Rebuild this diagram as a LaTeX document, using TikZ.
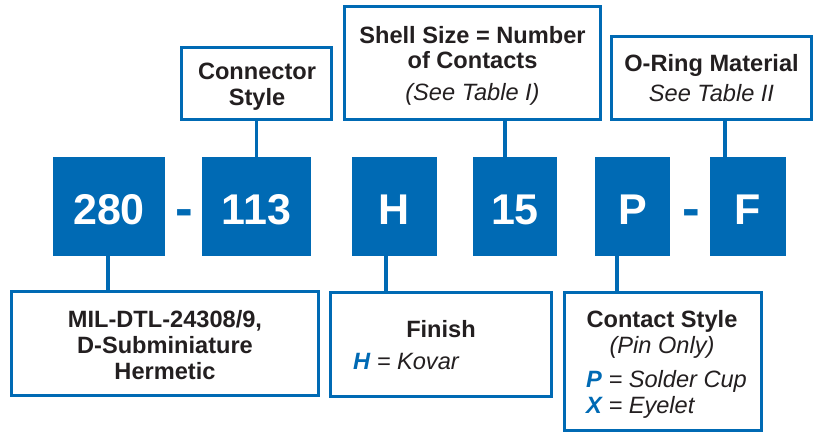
\documentclass[tikz,border=0pt]{standalone}
\usepackage{fontspec}
\setmainfont{Liberation Sans}
\usepackage{xcolor}
\definecolor{pnblue}{HTML}{006AB4}
\definecolor{pntext}{HTML}{231F20}

\begin{document}
\begin{tikzpicture}[x=1pt,y=-1pt]
	\tikzstyle{code-box}=[fill=pnblue,text=white,inner sep=0pt,minimum height=99pt,text height=35pt,text depth=0pt,font=\fontsize{43}{43}\selectfont\bfseries]
	\tikzstyle{info-box}=[draw=pnblue,line width=3.5pt,inner sep=0pt]
	\tikzstyle{head}=[color=pntext,font=\fontsize{23.6}{26}\selectfont\bfseries,anchor=base,inner sep=0pt]
	\tikzstyle{note}=[color=pntext,font=\fontsize{23.6}{26}\selectfont\itshape,anchor=base,inner sep=0pt]
	\tikzstyle{dash-sign}=[color=pnblue,font=\fontsize{53}{53}\selectfont\bfseries,anchor=base,inner sep=0pt]
	\tikzstyle{link}=[draw=pnblue,line width=3.5pt]
	\useasboundingbox (0,0) rectangle (825,434);
	% part number
	\node [code-box,minimum width=112pt] at (109,206.5) (n280) {280};
	\node [dash-sign] at (184.5,226) (dash1) {-};
	\node [code-box,minimum width=109pt] at (256.5,206.5) (n113) {113};
	\node [code-box,minimum width=85pt] at (394.5,206.5) (nH) {H};
	\node [code-box,minimum width=84pt] at (515,206.5) (n15) {15};
	\node [code-box,minimum width=75pt] at (632.5,206.5) (nP) {P};
	\node [dash-sign] at (691,226) (dash2) {-};
	\node [code-box,minimum width=76pt] at (748,206.5) (nF) {F};
	% upper boxes
	\node [info-box,minimum width=150pt,minimum height=72pt] at (256.5,83.5) (conn) {};
	\node [head] at (257,79) (conn-l1) {Connector};
	\node [head] at (257,105) (conn-l2) {Style};
	\node [info-box,minimum width=256pt,minimum height=113pt] at (472.5,63) (shell) {};
	\node [head] at (472.5,43) (shell-l1) {Shell Size = Number};
	\node [head] at (472.5,68) (shell-l2) {of Contacts};
	\node [note] at (472.5,100) (shell-l3) {(See Table I)};
	\node [info-box,minimum width=200pt,minimum height=83pt] at (711.5,78) (oring) {};
	\node [head] at (711.5,71) (oring-l1) {O-Ring Material};
	\node [note] at (711.5,101) (oring-l2) {See Table II};
	% lower boxes
	\node [info-box,minimum width=307pt,minimum height=104pt] at (165,343.5) (mil) {};
	\node [head] at (165,327) (mil-l1) {MIL-DTL-24308/9,};
	\node [head] at (165,353) (mil-l2) {D-Subminiature};
	\node [head] at (165,379) (mil-l3) {Hermetic};
	\node [info-box,minimum width=221pt,minimum height=104pt] at (441,344.5) (finish) {};
	\node [head] at (441,337) (finish-l1) {Finish};
	\node [note,anchor=base west] at (353,369) (finish-l2) {{\bfseries\color{pnblue}H} = Kovar};
	\node [info-box,minimum width=197pt,minimum height=138pt] at (663,361.5) (contact) {};
	\node [head] at (662,327) (contact-l1) {Contact Style};
	\node [note] at (662,353) (contact-l2) {(Pin Only)};
	\node [note,anchor=base west] at (586,387) (contact-l3) {{\bfseries\color{pnblue}P} = Solder Cup};
	\node [note,anchor=base west] at (586,413) (contact-l4) {{\bfseries\color{pnblue}X} = Eyelet};
	% links
	\draw [link] (conn.south) -- (n113.north);
	\draw [link] ([xshift=-10pt]n15.north) -- ([xshift=-10pt]n15.north |- shell.south);
	\draw [link] ([xshift=-23pt]nF.north) -- ([xshift=-23pt]nF.north |- oring.south);
	\draw [link] ([xshift=-1pt]n280.south) -- ([xshift=-1pt]n280.south |- mil.north);
	\draw [link] ([xshift=-8.5pt]nH.south) -- ([xshift=-8.5pt]nH.south |- finish.north);
	\draw [link] ([xshift=-15.5pt]nP.south) -- ([xshift=-15.5pt]nP.south |- contact.north);
\end{tikzpicture}
\end{document}
